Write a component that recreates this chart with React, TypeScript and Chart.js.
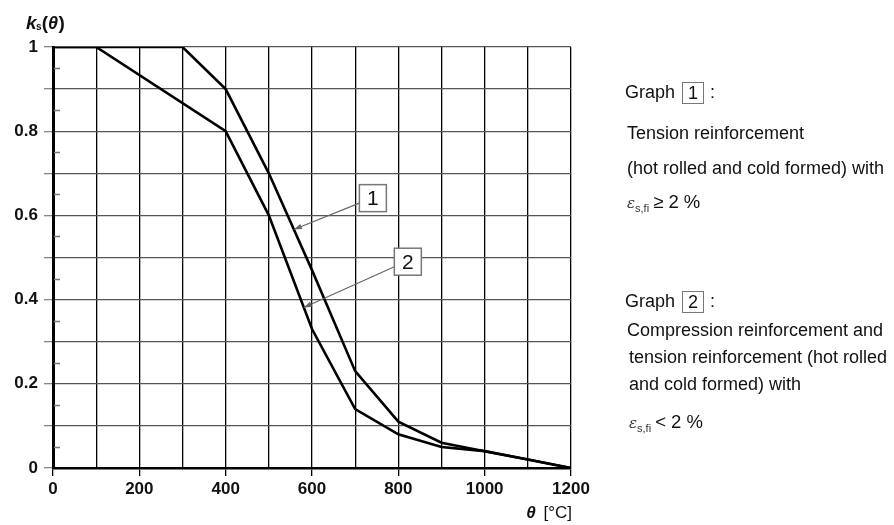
import React, { useEffect, useRef } from "react";
import { Chart, registerables } from "chart.js";

Chart.register(...registerables);

// ---------- data ----------
const graph1Temps = [0, 300, 400, 500, 600, 700, 800, 900, 1000, 1100, 1200];
const graph1Values = [1, 1, 0.9, 0.7, 0.47, 0.23, 0.11, 0.06, 0.04, 0.02, 0];
const graph2Temps = [0, 100, 400, 500, 600, 700, 800, 900, 1000, 1100, 1200];
const graph2Values = [1, 1, 0.8, 0.6, 0.33, 0.14, 0.08, 0.05, 0.04, 0.02, 0];

const xMin = 0;
const xMax = 1200;
const xStep = 100;
const yMin = 0;
const yMax = 1;
const yStep = 0.1;

// curve labels: box centre in data coords, arrow tip at a temperature on the curve
const curveLabels = [
  { label: "1", boxTemp: 741, boxK: 0.641, tipTemp: 558, series: 0 },
  { label: "2", boxTemp: 822, boxK: 0.49, tipTemp: 581, series: 1 },
];

const FONT = '"Liberation Sans", Arial, sans-serif';

function interp(xs: number[], ys: number[], x: number) {
  for (let i = 0; i < xs.length - 1; i++) {
    if (x >= xs[i] && x <= xs[i + 1]) {
      const t = (x - xs[i]) / (xs[i + 1] - xs[i]);
      return ys[i] + t * (ys[i + 1] - ys[i]);
    }
  }
  return ys[ys.length - 1];
}

const seriesList = [
  { xs: graph1Temps, ys: graph1Values },
  { xs: graph2Temps, ys: graph2Values },
];

const decorPlugin = {
  id: "decor",
  afterDraw(chart: any) {
    const ctx = chart.ctx;
    const xs = chart.scales.x;
    const ys = chart.scales.y;
    const area = chart.chartArea;
    ctx.save();

    // minor ticks on y axis (inside)
    ctx.strokeStyle = "#777";
    ctx.lineWidth = 1.5;
    for (let v = yMin + yStep / 2; v < yMax; v += yStep) {
      const py = Math.round(ys.getPixelForValue(v)) + 0.5;
      ctx.beginPath();
      ctx.moveTo(area.left + 1, py);
      ctx.lineTo(area.left + 7, py);
      ctx.stroke();
    }

    // curve labels with arrows
    curveLabels.forEach((c) => {
      const s = seriesList[c.series];
      const bx = xs.getPixelForValue(c.boxTemp);
      const by = ys.getPixelForValue(c.boxK);
      const tx = xs.getPixelForValue(c.tipTemp);
      const ty = ys.getPixelForValue(interp(s.xs, s.ys, c.tipTemp));
      const w = 27;
      const h = 27;
      const sx = bx - w / 2;
      const sy = by + 5;
      ctx.strokeStyle = "#666";
      ctx.fillStyle = "#666";
      ctx.lineWidth = 1.2;
      ctx.beginPath();
      ctx.moveTo(sx, sy);
      ctx.lineTo(tx, ty);
      ctx.stroke();
      const ang = Math.atan2(ty - sy, tx - sx);
      const L = 8;
      const W = 2.8;
      ctx.beginPath();
      ctx.moveTo(tx, ty);
      ctx.lineTo(
        tx - L * Math.cos(ang) + W * Math.sin(ang),
        ty - L * Math.sin(ang) - W * Math.cos(ang)
      );
      ctx.lineTo(
        tx - L * Math.cos(ang) - W * Math.sin(ang),
        ty - L * Math.sin(ang) + W * Math.cos(ang)
      );
      ctx.closePath();
      ctx.fill();
      ctx.fillStyle = "#fff";
      ctx.fillRect(bx - w / 2, by - h / 2, w, h);
      ctx.strokeStyle = "#777";
      ctx.lineWidth = 1.5;
      ctx.strokeRect(bx - w / 2, by - h / 2, w, h);
      ctx.fillStyle = "#111";
      ctx.font = `21px ${FONT}`;
      ctx.textAlign = "center";
      ctx.textBaseline = "middle";
      ctx.fillText(c.label, bx, by + 1);
    });

    // y axis title: k_s(θ)
    ctx.fillStyle = "#111";
    ctx.textAlign = "left";
    ctx.textBaseline = "alphabetic";
    let x = 26;
    const base = 29;
    ctx.font = `italic bold 19px ${FONT}`;
    ctx.fillText("k", x, base);
    x += ctx.measureText("k").width - 0.5;
    ctx.font = `bold 10px ${FONT}`;
    ctx.fillText("s", x, base + 1);
    x += ctx.measureText("s").width;
    ctx.font = `bold 19px ${FONT}`;
    ctx.fillText("(", x, base);
    x += ctx.measureText("(").width;
    ctx.font = `italic bold 18px ${FONT}`;
    ctx.fillText("θ", x, base);
    x += ctx.measureText("θ").width + 0.5;
    ctx.font = `bold 19px ${FONT}`;
    ctx.fillText(")", x, base);

    // x axis title: θ [°C]
    ctx.font = `17px ${FONT}`;
    const rest = " [°C]";
    const restW = ctx.measureText(rest).width;
    const right = area.right + 1;
    ctx.fillText(rest, right - restW, 518);
    ctx.font = `italic bold 17px ${FONT}`;
    const thW = ctx.measureText("θ").width;
    ctx.fillText("θ", right - restW - thW - 3, 518);

    ctx.restore();
  },
};

function ChartView() {
  const ref = useRef<HTMLCanvasElement | null>(null);
  useEffect(() => {
    if (!ref.current) return;
    const chart = new Chart(ref.current, {
      type: "line",
      data: {
        datasets: [
          {
            label: "Graph 1",
            data: graph1Temps.map((t, i) => ({ x: t, y: graph1Values[i] })),
            borderColor: "#000",
            borderWidth: 2.6,
            pointRadius: 0,
            tension: 0,
            fill: false,
          },
          {
            label: "Graph 2",
            data: graph2Temps.map((t, i) => ({ x: t, y: graph2Values[i] })),
            borderColor: "#000",
            borderWidth: 2.6,
            pointRadius: 0,
            tension: 0,
            fill: false,
          },
        ],
      },
      options: {
        responsive: false,
        animation: false,
        events: [],
        layout: { padding: { top: 47, right: 323, bottom: 0, left: 0 } },
        plugins: {
          legend: { display: false },
          tooltip: { enabled: false },
          title: { display: false },
        },
        scales: {
          x: {
            type: "linear",
            min: xMin,
            max: xMax,
            afterFit: (s: any) => {
              s.height = 57;
            },
            border: { color: "#000", width: 2.5 },
            grid: {
              color: "#000",
              lineWidth: 1.3,
              tickLength: 8,
              tickColor: (c: any) =>
                c.tick && Math.round(c.tick.value) % 200 === 0 ? "#000" : "rgba(0,0,0,0)",
            },
            ticks: {
              stepSize: xStep,
              maxRotation: 0,
              autoSkip: false,
              padding: 3,
              color: "#111",
              font: { family: FONT, size: 17, weight: "bold" },
              callback: (v: any) => (Math.round(v) % 200 === 0 ? String(Math.round(v)) : ""),
            },
          },
          y: {
            type: "linear",
            min: yMin,
            max: yMax,
            afterFit: (s: any) => {
              s.width = 53;
            },
            border: { color: "#000", width: 3 },
            grid: {
              color: "#555",
              lineWidth: 1.3,
              tickLength: 9,
              tickColor: "#888",
            },
            ticks: {
              stepSize: yStep,
              autoSkip: false,
              padding: 6,
              color: "#111",
              font: { family: FONT, size: 17, weight: "bold" },
              callback: (v: any) => {
                const r = Math.round(v * 10);
                return r % 2 === 0 ? String(r / 10) : "";
              },
            },
          },
        },
      },
      plugins: [decorPlugin],
    } as any);
    return () => chart.destroy();
  }, []);
  return <canvas ref={ref} width={894} height={525} style={{ width: 894, height: 525, display: "block" }} />;
}

const textBase: React.CSSProperties = {
  position: "absolute",
  fontFamily: FONT,
  fontSize: "18px",
  lineHeight: "22px",
  color: "#111",
  whiteSpace: "nowrap",
};

function NumBox({ n }: { n: string }) {
  return (
    <span
      style={{
        display: "inline-block",
        border: "1.5px solid #777",
        width: 20,
        height: 20,
        lineHeight: "20px",
        textAlign: "center",
        marginLeft: 7,
        marginRight: 6,
        verticalAlign: "middle",
        fontSize: "18px",
      }}
    >
      {n}
    </span>
  );
}

function Eps({ rel }: { rel: string }) {
  return (
    <span>
      <span style={{ fontFamily: '"DejaVu Serif", serif', fontStyle: "italic", fontSize: "15px", color: "#333" }}>ε</span>
      <span style={{ fontSize: "11px", position: "relative", top: 4, color: "#333" }}>s,fi</span>
      <span style={{ fontSize: "18.5px", marginLeft: 4 }}>{rel} 2 %</span>
    </span>
  );
}

function Line({ left, cy, children }: { left: number; cy: number; children: React.ReactNode }) {
  return <div style={{ ...textBase, left, top: cy - 11 }}>{children}</div>;
}

export default function App() {
  return (
    <div style={{ position: "fixed", left: 0, top: 0, width: 894, height: 525, background: "#fff", overflow: "hidden" }}>
      <ChartView />
      <Line left={625} cy={92}>
        Graph<NumBox n="1" />:
      </Line>
      <Line left={627} cy={133}>Tension reinforcement</Line>
      <Line left={627} cy={168}>(hot rolled and cold formed) with</Line>
      <Line left={627} cy={202}>
        <Eps rel="≥" />
      </Line>
      <Line left={625} cy={301}>
        Graph<NumBox n="2" />:
      </Line>
      <Line left={627} cy={330}>Compression reinforcement and</Line>
      <Line left={629} cy={357}>tension reinforcement (hot rolled</Line>
      <Line left={629} cy={384}>and cold formed) with</Line>
      <Line left={629} cy={422}>
        <Eps rel="<" />
      </Line>
    </div>
  );
}
